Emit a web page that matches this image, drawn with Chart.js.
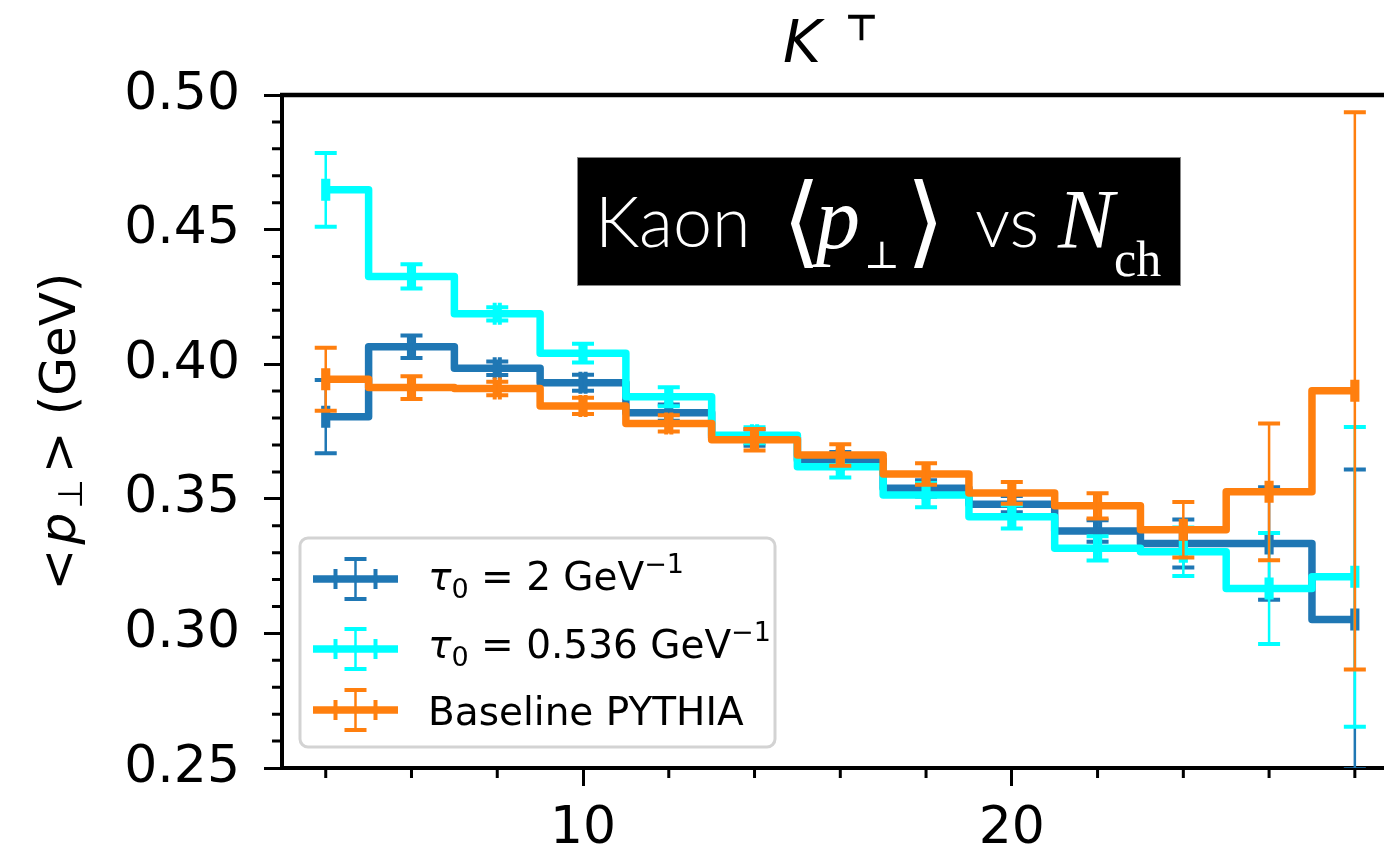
<!DOCTYPE html>
<html>
<head>
<meta charset="utf-8">
<script src="https://cdn.jsdelivr.net/npm/chart.js@4.4.1/dist/chart.umd.min.js"></script>
<style>
  html, body { margin: 0; padding: 0; background: #fff; }
  canvas { display: block; }
</style>
</head>
<body>
<canvas id="kaonChart" width="1384" height="857"></canvas>
<script>
// multiplicity bins (N_ch)
var nch = [4, 6, 8, 10, 12, 14, 16, 18, 20, 22, 24, 26, 28];
var nchErr = 0.06;

// tau0 = 2 GeV^-1
var tau2 = [0.3805, 0.4065, 0.3985, 0.3931, 0.3820, 0.3727, 0.3644, 0.3539, 0.3480, 0.3380, 0.3334, 0.3334, 0.3052];
var tau2Err = [0.0136, 0.0042, 0.0025, 0.0030, 0.0030, 0.0030, 0.0030, 0.0030, 0.0030, 0.0040, 0.0089, 0.0209, 0.0557];

// tau0 = 0.536 GeV^-1
var tau0536 = [0.4648, 0.4326, 0.4187, 0.4041, 0.3879, 0.3736, 0.3619, 0.3514, 0.3433, 0.3316, 0.3303, 0.3167, 0.3210];
var tau0536Err = [0.0137, 0.0045, 0.0025, 0.0035, 0.0035, 0.0030, 0.0040, 0.0045, 0.0043, 0.0045, 0.0090, 0.0206, 0.0557];

// baseline PYTHIA
var pythia = [0.3944, 0.3913, 0.3910, 0.3845, 0.3780, 0.3719, 0.3663, 0.3592, 0.3522, 0.3474, 0.3385, 0.3526, 0.3901];
var pythiaErr = [0.0117, 0.0042, 0.0025, 0.0030, 0.0030, 0.0040, 0.0040, 0.0040, 0.0040, 0.0047, 0.0103, 0.0254, 0.1035];

var xTicks = [10, 20];
var xMinorTicks = [4, 6, 8, 12, 14, 16, 18, 22, 24, 26, 28];
var yTicks = [0.25, 0.30, 0.35, 0.40, 0.45, 0.50];
var yMinorTicks = [0.26, 0.27, 0.28, 0.29, 0.31, 0.32, 0.33, 0.34, 0.36, 0.37, 0.38, 0.39,
                   0.41, 0.42, 0.43, 0.44, 0.46, 0.47, 0.48, 0.49];

var BLUE = '#1f77b4', CYAN = '#00ffff', ORANGE = '#ff7f0e';

function points(ys) {
    return nch.map(function (x, i) { return { x: x, y: ys[i] }; });
}

// draws text pieces one after another (for sub/superscripts)
function drawRuns(ctx, runs, x, y, center) {
    var total = 0;
    runs.forEach(function (r) {
        ctx.font = r.font;
        r.w = ctx.measureText(r.text).width + (r.gap || 0);
        total += r.w;
    });
    var cx = center ? x - total / 2 : x;
    runs.forEach(function (r) {
        ctx.font = r.font;
        ctx.fillText(r.text, cx, y + (r.dy || 0));
        cx += r.w;
    });
}

// vertical + small horizontal error bars, drawn right after each dataset
var errorBars = {
    id: 'errorBars',
    afterDatasetDraw: function (chart, args) {
        var ds = chart.data.datasets[args.index];
        var xs = chart.scales.x, ys = chart.scales.y, a = chart.chartArea;
        var ctx = chart.ctx;
        ctx.save();
        ctx.beginPath();
        ctx.rect(a.left, a.top, a.right - a.left, a.bottom - a.top);
        ctx.clip();
        ctx.strokeStyle = ds.borderColor;
        ds.data.forEach(function (p, i) {
            var px = xs.getPixelForValue(p.x);
            var py = ys.getPixelForValue(p.y);
            var top = ys.getPixelForValue(p.y + ds.yErr[i]);
            var bot = ys.getPixelForValue(p.y - ds.yErr[i]);
            var xl = xs.getPixelForValue(p.x - nchErr);
            var xr = xs.getPixelForValue(p.x + nchErr);
            ctx.lineWidth = 2.5;
            ctx.beginPath();
            ctx.moveTo(px, top); ctx.lineTo(px, bot);
            ctx.moveTo(xl, py); ctx.lineTo(xr, py);
            ctx.stroke();
            ctx.lineWidth = 4;
            ctx.beginPath();
            ctx.moveTo(px - 11, top); ctx.lineTo(px + 11, top);
            ctx.moveTo(px - 11, bot); ctx.lineTo(px + 11, bot);
            ctx.moveTo(xl, py - 11); ctx.lineTo(xl, py + 11);
            ctx.moveTo(xr, py - 11); ctx.lineTo(xr, py + 11);
            ctx.stroke();
        });
        ctx.restore();
    }
};

// minor ticks, top spine, labels, legend, annotation box
var decorations = {
    id: 'decorations',
    afterDraw: function (chart) {
        var ctx = chart.ctx, a = chart.chartArea;
        var xs = chart.scales.x, ys = chart.scales.y;
        ctx.save();
        ctx.strokeStyle = '#000';

        // minor ticks
        ctx.lineWidth = 3;
        ctx.beginPath();
        xMinorTicks.forEach(function (v) {
            var px = xs.getPixelForValue(v);
            ctx.moveTo(px, a.bottom); ctx.lineTo(px, a.bottom + 10);
        });
        yMinorTicks.forEach(function (v) {
            var py = ys.getPixelForValue(v);
            ctx.moveTo(a.left - 10, py); ctx.lineTo(a.left, py);
        });
        ctx.stroke();

        // top spine
        ctx.lineWidth = 4.5;
        ctx.beginPath();
        ctx.moveTo(a.left - 2, a.top); ctx.lineTo(a.right, a.top);
        ctx.stroke();

        ctx.fillStyle = '#000';
        ctx.textAlign = 'left';
        ctx.textBaseline = 'alphabetic';

        // title
        ctx.font = 'italic 58px "DejaVu Sans"';
        ctx.fillText('K', 783, 62);
        ctx.font = 'bold 36px "DejaVu Sans"';
        ctx.fillText('\u22A4', 845, 40);

        // y axis title
        ctx.save();
        ctx.translate(75, (a.top + a.bottom) / 2);
        ctx.rotate(-Math.PI / 2);
        drawRuns(ctx, [
            { text: '<', font: '50px "DejaVu Sans"', gap: 4 },
            { text: 'p', font: 'italic 50px "DejaVu Sans"', gap: 4 },
            { text: '\u22A5', font: '34px "DejaVu Sans"', dy: 7, gap: 6 },
            { text: '>', font: '50px "DejaVu Sans"' },
            { text: ' (GeV)', font: '50px "DejaVu Sans"' }
        ], 0, 0, true);
        ctx.restore();

        // annotation box
        ctx.fillStyle = '#000';
        ctx.fillRect(577, 157, 603, 128);
        ctx.lineWidth = 1;
        ctx.strokeStyle = '#888';
        ctx.strokeRect(577.5, 157.5, 603, 128);
        ctx.fillStyle = '#fff';
        ctx.font = '300 70px Lato';
        ctx.fillText('Kaon', 595, 247);
        ctx.font = '100px "DejaVu Sans"';
        ctx.fillText('\u27E8', 782, 255);
        ctx.fillText('\u27E9', 906, 255);
        ctx.font = 'italic 88px "Liberation Serif"';
        ctx.fillText('p', 816, 248);
        ctx.font = '38px "DejaVu Serif"';
        ctx.fillText('\u22A5', 864, 268);
        ctx.font = '300 70px Lato';
        ctx.fillText('vs', 975, 247);
        ctx.font = 'italic 84px "Liberation Serif"';
        ctx.fillText('N', 1058, 248);
        ctx.font = '50px "Liberation Serif"';
        ctx.fillText('ch', 1114, 276);

        // legend
        ctx.fillStyle = 'rgba(255,255,255,0.8)';
        ctx.strokeStyle = '#d3d3d3';
        ctx.lineWidth = 3;
        ctx.beginPath();
        ctx.roundRect(300, 538, 475, 209, 8);
        ctx.fill();
        ctx.stroke();

        var rows = [
            { color: BLUE, y: 579, base: 590, runs: [
                { text: '\u03C4', font: 'italic 39px "DejaVu Sans"' },
                { text: '0', font: '27px "DejaVu Sans"', dy: 8 },
                { text: ' = 2 GeV', font: '39px "DejaVu Sans"' },
                { text: '\u22121', font: '27px "DejaVu Sans"', dy: -17 }] },
            { color: CYAN, y: 649, base: 658, runs: [
                { text: '\u03C4', font: 'italic 39px "DejaVu Sans"' },
                { text: '0', font: '27px "DejaVu Sans"', dy: 8 },
                { text: ' = 0.536 GeV', font: '39px "DejaVu Sans"' },
                { text: '\u22121', font: '27px "DejaVu Sans"', dy: -17 }] },
            { color: ORANGE, y: 710, base: 725, runs: [
                { text: 'Baseline PYTHIA', font: '39px "DejaVu Sans"' }] }
        ];
        rows.forEach(function (r) {
            var cx = 355.5;
            ctx.strokeStyle = r.color;
            ctx.lineWidth = 7.5;
            ctx.beginPath();
            ctx.moveTo(313, r.y); ctx.lineTo(398, r.y);
            ctx.stroke();
            ctx.lineWidth = 2.5;
            ctx.beginPath();
            ctx.moveTo(cx, r.y - 20); ctx.lineTo(cx, r.y + 20);
            ctx.stroke();
            ctx.lineWidth = 4;
            ctx.beginPath();
            ctx.moveTo(cx - 11, r.y - 20); ctx.lineTo(cx + 11, r.y - 20);
            ctx.moveTo(cx - 11, r.y + 20); ctx.lineTo(cx + 11, r.y + 20);
            ctx.moveTo(cx - 20, r.y - 10); ctx.lineTo(cx - 20, r.y + 10);
            ctx.moveTo(cx + 20, r.y - 10); ctx.lineTo(cx + 20, r.y + 10);
            ctx.stroke();
            ctx.fillStyle = '#000';
            drawRuns(ctx, r.runs, 428, r.base, false);
        });
        ctx.restore();
    }
};

function series(label, ys, errs, color, order) {
    return {
        label: label,
        data: points(ys),
        yErr: errs,
        borderColor: color,
        backgroundColor: color,
        borderWidth: 7.5,
        borderJoinStyle: 'round',
        stepped: 'middle',
        pointRadius: 0,
        fill: false,
        order: order
    };
}

var ctx = document.getElementById('kaonChart').getContext('2d');
var kaonChart = new Chart(ctx, {
    type: 'line',
    data: {
        datasets: [
            series('\u03C40 = 2 GeV-1', tau2, tau2Err, BLUE, 3),
            series('\u03C40 = 0.536 GeV-1', tau0536, tau0536Err, CYAN, 2),
            series('Baseline PYTHIA', pythia, pythiaErr, ORANGE, 1)
        ]
    },
    options: {
        responsive: false,
        animation: false,
        devicePixelRatio: 1,
        layout: { padding: { top: 95, right: 0, left: 0, bottom: 0 } },
        plugins: { legend: { display: false }, tooltip: { enabled: false } },
        scales: {
            x: {
                type: 'linear',
                min: 2.98,
                max: 28.68,
                afterBuildTicks: function (s) { s.ticks = xTicks.map(function (v) { return { value: v }; }); },
                afterFit: function (s) { s.height = 89; },
                ticks: { color: '#000', font: { family: 'DejaVu Sans', size: 52 }, padding: 12, maxRotation: 0, autoSkip: false },
                grid: { drawOnChartArea: false, drawTicks: true, tickLength: 18, tickWidth: 3, tickColor: '#000' },
                border: { display: true, color: '#000', width: 4 }
            },
            y: {
                type: 'linear',
                min: 0.25,
                max: 0.50,
                afterBuildTicks: function (s) { s.ticks = yTicks.map(function (v) { return { value: v }; }); },
                afterFit: function (s) { s.width = 282; },
                ticks: {
                    color: '#000', font: { family: 'DejaVu Sans', size: 52 }, padding: 24,
                    callback: function (v) { return v.toFixed(2); }
                },
                grid: { drawOnChartArea: false, drawTicks: true, tickLength: 18, tickWidth: 3, tickColor: '#000' },
                border: { display: true, color: '#000', width: 4 }
            }
        }
    },
    plugins: [errorBars, decorations]
});
</script>
</body>
</html>
